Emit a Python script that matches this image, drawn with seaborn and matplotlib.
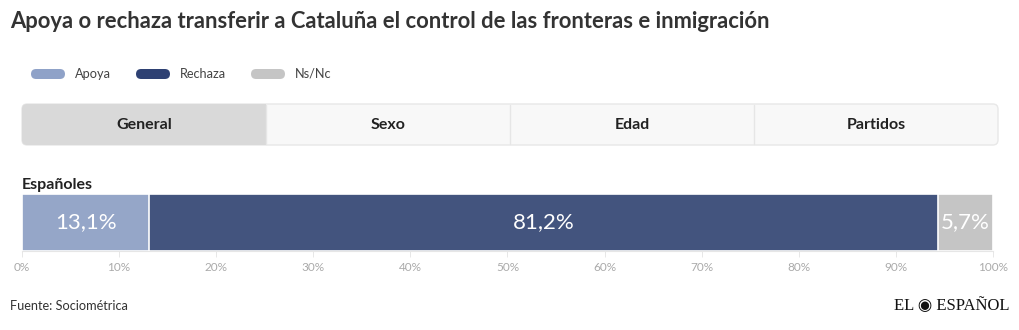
import matplotlib
matplotlib.use("Agg")
import matplotlib.pyplot as plt
from matplotlib.patches import FancyBboxPatch, Rectangle
import seaborn as sns
import pandas as pd

# ---- data ----
categories = ["Apoya", "Rechaza", "Ns/Nc"]
values = [13.1, 81.2, 5.7]
value_labels = ["13,1%", "81,2%", "5,7%"]
group = "Españoles"
tabs = ["General", "Sexo", "Edad", "Partidos"]
tick_values = [0, 10, 20, 30, 40, 50, 60, 70, 80, 90, 100]
tick_labels = ["0%", "10%", "20%", "30%", "40%", "50%", "60%", "70%", "80%", "90%", "100%"]
colors = ["#95a6c8", "#43547e", "#c5c5c5"]
legend_colors = ["#8fa2c8", "#2e4173", "#c5c5c5"]

sns.set_theme(style="white")
plt.rcParams["font.family"] = ["Lato", "DejaVu Sans"]

W, H = 1020, 330
fig = plt.figure(figsize=(W / 100, H / 100), dpi=100)

def fx(x):
    return x / W

def fy(y):
    return 1 - y / H

# title
fig.text(fx(10), fy(22), "Apoya o rechaza transferir a Cataluña el control de las fronteras e inmigración",
         fontsize=15.8, fontweight="bold", color="#333333", va="center", ha="left")

# legend
leg_x = [30, 135, 250]
for lx, c, lab in zip(leg_x, legend_colors, categories):
    fig.patches.append(FancyBboxPatch((fx(lx + 1), fy(79)), fx(34), 10 / H,
                                      boxstyle="round,pad=0,rounding_size=0.005",
                                      transform=fig.transFigure, facecolor=c, edgecolor="none",
                                      mutation_aspect=W / H))
    fig.text(fx(lx + 45), fy(74), lab, fontsize=9.2, color="#444444", va="center", ha="left")

# tabs
tab_l, tab_r, tab_t, tab_b = 22, 998, 104, 145
fig.patches.append(FancyBboxPatch((fx(tab_l), fy(tab_b)), fx(tab_r - tab_l), (tab_b - tab_t) / H,
                                  boxstyle="round,pad=0,rounding_size=0.005",
                                  transform=fig.transFigure, facecolor="#f8f8f8",
                                  edgecolor="#e8e8e8", linewidth=1, mutation_aspect=W / H))
tw = (tab_r - tab_l) / len(tabs)
fig.patches.append(FancyBboxPatch((fx(tab_l), fy(tab_b)), fx(tw), (tab_b - tab_t) / H,
                                  boxstyle="round,pad=0,rounding_size=0.005",
                                  transform=fig.transFigure, facecolor="#d9d9d9",
                                  edgecolor="none", mutation_aspect=W / H))
fig.patches.append(Rectangle((fx(tab_l + tw - 10), fy(tab_b)), fx(10), (tab_b - tab_t) / H,
                             transform=fig.transFigure, facecolor="#d9d9d9", edgecolor="none"))
for i in range(1, len(tabs)):
    xx = tab_l + tw * i
    fig.add_artist(plt.Line2D([fx(xx), fx(xx)], [fy(tab_b - 1), fy(tab_t + 1)],
                              transform=fig.transFigure, color="#e6e6e6", linewidth=1))
for i, t in enumerate(tabs):
    fig.text(fx(tab_l + tw * (i + 0.5)), fy(125), t, fontsize=11.5, fontweight="bold",
             color="#222222", ha="center", va="center")

# group label
fig.text(fx(22), fy(185), group, fontsize=11.5, fontweight="bold", color="#222222",
         ha="left", va="center")

# bar axes
ax_l, ax_r, ax_t, ax_b = 22, 993, 194, 251
ax = fig.add_axes([fx(ax_l), fy(ax_b), fx(ax_r - ax_l), (ax_b - ax_t) / H])

cum = []
s = 0
for v in values:
    s += v
    cum.append(s)
df = pd.DataFrame({"grupo": [group] * len(values), "cat": categories, "cum": cum})

for i in reversed(range(len(values))):
    sns.barplot(data=df.iloc[[i]], x="cum", y="grupo", orient="h", color=colors[i],
                width=1.0, edgecolor="white", linewidth=1.2, ax=ax, saturation=1)

start = 0
for v, lab in zip(values, value_labels):
    ax.text(start + v / 2, 0, lab, ha="center", va="center", color="white",
            fontsize=16, fontweight="normal", zorder=10)
    start += v

ax.set_xlim(0, 100)
ax.set_ylim(0.5, -0.5)
ax.set_ylabel("")
ax.set_xlabel("")
ax.set_yticks([])
ax.set_xticks(tick_values)
ax.set_xticklabels(tick_labels, fontsize=8.5, color="#aaaaaa")
ax.tick_params(axis="x", length=4, width=0.6, color="#e3e3e3", pad=4, bottom=True)
for sp in ["top", "left", "right"]:
    ax.spines[sp].set_visible(False)
ax.spines["bottom"].set_color("#e6e6e6")
ax.spines["bottom"].set_linewidth(0.8)
ax.set_facecolor("none")

# footer
fig.text(fx(10), fy(306), "Fuente: Sociométrica", fontsize=9.2, color="#333333",
         ha="left", va="center")
fig.text(fx(1010), fy(306), "EL ◉ ESPAÑOL", fontsize=12, color="#111111",
         ha="right", va="center", family=["Liberation Serif", "DejaVu Serif"])

fig.savefig("out.png", dpi=100)
